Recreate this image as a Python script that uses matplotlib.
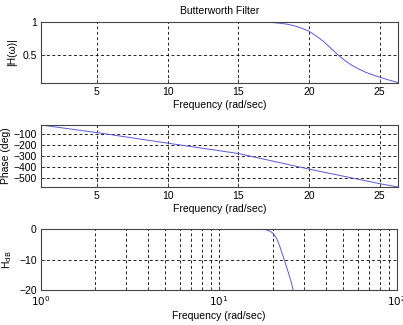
import matplotlib
matplotlib.use('Agg')
import matplotlib.pyplot as plt
from matplotlib.ticker import FixedLocator, NullFormatter

plt.rcParams['font.family'] = ['Liberation Sans', 'DejaVu Sans']
plt.rcParams['font.size'] = 7.5

# magnitude |H(w)|
mag_w = [1.05, 10, 15, 16, 16.5, 17, 17.5, 18, 18.5, 19, 19.5, 20, 20.5, 21, 21.5,
         22, 22.5, 23, 23.5, 24, 24.5, 25, 25.5, 26, 26.3]
mag_h = [1.0, 1.0, 1.0, 0.999, 0.998, 0.995, 0.99, 0.98, 0.965, 0.94, 0.905, 0.86, 0.79,
         0.71, 0.61, 0.51, 0.42, 0.345, 0.285, 0.235, 0.195, 0.16, 0.125, 0.095, 0.075]

# phase (deg)
ph_w = [1.05, 5, 10, 15, 20, 25, 26.3]
ph_deg = [-20, -88, -183, -276, -416, -547, -577]

# magnitude in dB on the log axis
db_w = [1.0, 10, 17, 18, 18.5, 19, 19.5, 20, 20.5, 21, 21.5, 22, 22.5, 23, 23.5,
        24, 24.5, 25, 25.5, 26.1]
db_h = [0, 0, -0.04, -0.18, -0.31, -0.54, -0.87, -1.31, -2.05, -2.97, -4.29, -5.85,
        -7.54, -9.24, -10.9, -12.6, -14.2, -15.9, -17.6, -20.0]

line_color = '#5a5ad6'
grid_kw = dict(color='black', linestyle=(0, (3.5, 3)), linewidth=0.6)

fig = plt.figure(figsize=(4.03, 3.25), dpi=100)
W, H = 403, 325
def box(x0, y0, x1, y1):
    return [x0 / W, 1 - y1 / H, (x1 - x0) / W, (y1 - y0) / H]

ax1 = fig.add_axes(box(41, 22, 398, 83))
ax2 = fig.add_axes(box(41, 125, 398, 187))
ax3 = fig.add_axes(box(41, 229, 397, 290))

for ax in (ax1, ax2, ax3):
    for s in ax.spines.values():
        s.set_color('#444444')
        s.set_linewidth(0.8)
    ax.tick_params(direction='in', length=3, width=0.6, color='#444444', pad=3)

# top: |H(w)|
ax1.plot(mag_w, mag_h, color=line_color, linewidth=0.7)
ax1.set_xlim(1.05, 26.3)
ax1.set_ylim(0.07, 1.0)
ax1.set_xticks([5, 10, 15, 20, 25])
ax1.set_yticks([0.5, 1])
ax1.set_yticklabels(['0.5', '1'])
ax1.grid(True, **grid_kw)
ax1.set_ylabel('|H(\u03c9)|', labelpad=4)
ax1.set_xlabel('Frequency (rad/sec)', labelpad=2)
ax1.set_title('Butterworth Filter', fontsize=7.5, pad=6)

# middle: phase
ax2.plot(ph_w, ph_deg, color=line_color, linewidth=0.7)
ax2.set_xlim(1.05, 26.3)
ax2.set_ylim(-577, -20)
ax2.set_xticks([5, 10, 15, 20, 25])
ax2.set_yticks([-500, -400, -300, -200, -100])
ax2.grid(True, **grid_kw)
ax2.set_ylabel('Phase (deg)', labelpad=2)
ax2.set_xlabel('Frequency (rad/sec)', labelpad=2)

# bottom: dB on log axis
ax3.semilogx(db_w, db_h, color=line_color, linewidth=0.7)
ax3.set_xlim(1, 100)
ax3.set_ylim(-20, 0)
ax3.set_yticks([-20, -10, 0])
ax3.xaxis.set_major_locator(FixedLocator([1, 10, 100]))
ax3.xaxis.set_minor_locator(FixedLocator([2, 3, 4, 5, 6, 7, 8, 9, 20, 30, 40, 50, 60, 70, 80, 90]))
ax3.xaxis.set_minor_formatter(NullFormatter())
ax3.set_xticklabels(['$10^0$', '$10^1$', '$10^2$'])
ax3.tick_params(which='minor', direction='in', length=2, width=0.6, color='#444444')
ax3.grid(True, which='both', **grid_kw)
ax3.set_ylabel('H$_{\\mathrm{dB}}$', labelpad=4)
ax3.set_xlabel('Frequency (rad/sec)', labelpad=2)

fig.savefig('out.png', dpi=100)
